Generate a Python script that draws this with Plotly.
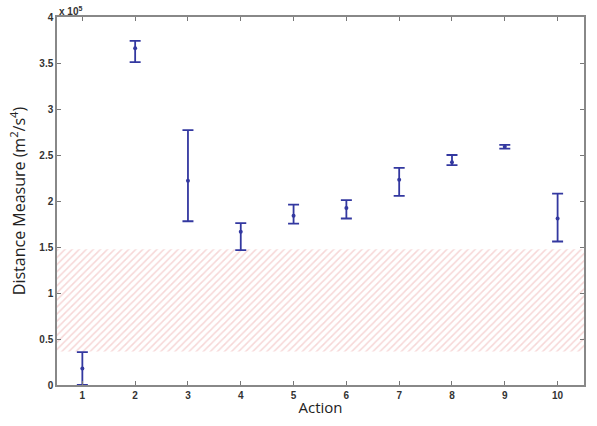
import plotly.graph_objects as go

actions = [1, 2, 3, 4, 5, 6, 7, 8, 9, 10]
# values in units of 1e5 m^2/s^4
means = [0.18, 3.66, 2.22, 1.665, 1.84, 1.925, 2.23, 2.42, 2.59, 1.81]
upper = [0.357, 3.74, 2.77, 1.76, 1.96, 2.01, 2.36, 2.50, 2.61, 2.08]
lower = [0.0, 3.51, 1.78, 1.465, 1.755, 1.81, 2.055, 2.39, 2.57, 1.56]
band_low, band_high = 0.365, 1.475
x_range = [0.52, 10.5]
y_ticks = [0, 0.5, 1, 1.5, 2, 2.5, 3, 3.5, 4]
y_ticklabels = ["0", "0.5", "1", "1.5", "2", "2.5", "3", "3.5", "4"]

err_plus = [u - m for u, m in zip(upper, means)]
err_minus = [m - l for m, l in zip(means, lower)]

blue = "#3338a0"
fig = go.Figure()
fig.add_trace(go.Scatter(
    x=[x_range[0], x_range[1], x_range[1], x_range[0], x_range[0]],
    y=[band_low, band_low, band_high, band_high, band_low],
    fill="toself", mode="lines", line=dict(width=0),
    fillcolor="rgba(0,0,0,0)",
    fillpattern=dict(shape="/", fgcolor="#eeb0b0", bgcolor="white", size=5, solidity=0.3),
    hoverinfo="skip", showlegend=False,
))
fig.add_trace(go.Scatter(
    x=actions, y=means, mode="markers",
    marker=dict(color=blue, size=4),
    error_y=dict(type="data", symmetric=False, array=err_plus, arrayminus=err_minus,
                 color=blue, thickness=1.8, width=5.5),
    showlegend=False,
))

tickfont = dict(family="Liberation Sans, Arial", size=10, color="#333333")
fig.update_layout(
    width=597, height=426,
    margin=dict(l=57, r=11, t=17, b=41),
    paper_bgcolor="white", plot_bgcolor="white",
    xaxis=dict(range=x_range, tickvals=actions, ticktext=["<b>%d</b>" % a for a in actions],
               ticks="inside", ticklen=4, tickcolor="#777777", showline=True,
               linecolor="#888888", linewidth=1.5, mirror="ticks", showgrid=False,
               zeroline=False, tickfont=tickfont,
               title=dict(text="Action", font=dict(family="Open Sans, Noto Sans", size=15, color="#222222"),
                          standoff=3)),
    yaxis=dict(range=[0, 4], tickvals=y_ticks, ticktext=["<b>%s</b>" % t for t in y_ticklabels],
               ticks="inside", ticklen=4, tickcolor="#777777", showline=True,
               linecolor="#888888", linewidth=1.5, mirror="ticks", showgrid=False,
               zeroline=False, tickfont=tickfont,
               title=dict(text="Distance Measure (m<sup>2</sup>/s<sup>4</sup>)",
                          font=dict(family="Open Sans, Noto Sans", size=16, color="#222222"),
                          standoff=10)),
    annotations=[dict(text="<b>x 10<sup>5</sup></b>", xref="paper", yref="paper", x=0.0, y=1.0,
                      xanchor="left", yanchor="bottom", showarrow=False, yshift=-2,
                      font=dict(family="Liberation Sans, Arial", size=10, color="#333333"))],
)
fig.write_html("out.html")
